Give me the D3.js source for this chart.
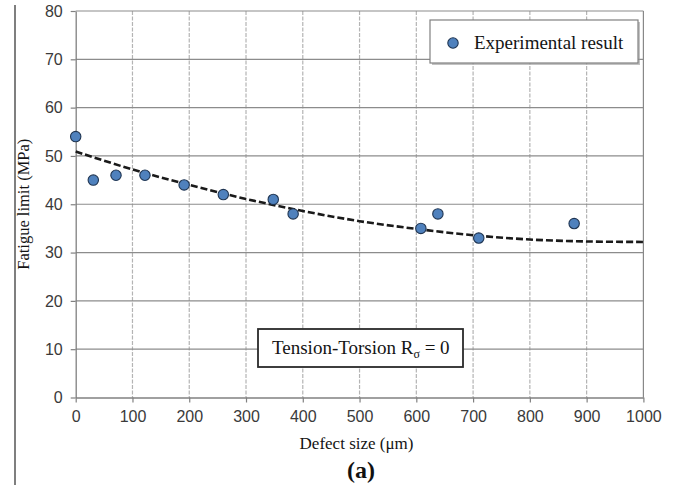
<!DOCTYPE html>
<html>
<head>
<meta charset="utf-8">
<script src="https://cdn.jsdelivr.net/npm/d3@7"></script>
<style>
  html, body { margin: 0; padding: 0; background: #fff; }
  svg { display: block; }
</style>
</head>
<body>
<svg id="chart" width="676" height="485"></svg>
<script>
// Measured fatigue limits against defect size
const defectSize = [0, 31, 71, 122, 191, 260, 348, 383, 608, 638, 710, 878];
const fatigueLimit = [54, 45, 46, 46, 44, 42, 41, 38, 35, 38, 33, 36];

// Dashed trend curve, sampled along the defect-size axis
const trendX = [0, 100, 200, 300, 400, 500, 600, 700, 800, 900, 1000];
const trendY = [50.9, 47.2, 44.0, 41.1, 38.6, 36.5, 34.9, 33.6, 32.7, 32.3, 32.2];

const xTicks = [0, 100, 200, 300, 400, 500, 600, 700, 800, 900, 1000];
const yTicks = [0, 10, 20, 30, 40, 50, 60, 70, 80];

const svg = d3.select("#chart");
const plotLeft = 75.7, plotRight = 643.4, plotTop = 11, plotBottom = 397.5;

const x = d3.scaleLinear().domain([0, 1000]).range([plotLeft, plotRight]);
const y = d3.scaleLinear().domain([0, 80]).range([plotBottom, plotTop]);

// page rule on the left
svg.append("line")
  .attr("x1", 15).attr("x2", 15).attr("y1", 5).attr("y2", 485)
  .attr("stroke", "#555").attr("stroke-width", 1.5);

// vertical grid (light, dashed)
svg.append("g").selectAll("line")
  .data(xTicks.filter(d => d > 0 && d < 1000))
  .join("line")
  .attr("x1", d => x(d)).attr("x2", d => x(d))
  .attr("y1", plotTop).attr("y2", plotBottom)
  .attr("stroke", "#b4b4b4").attr("stroke-width", 1.2)
  .attr("stroke-dasharray", "4,1.5");

// right border
svg.append("line")
  .attr("x1", x(1000)).attr("x2", x(1000)).attr("y1", plotTop).attr("y2", plotBottom)
  .attr("stroke", "#888").attr("stroke-width", 1.2);

// horizontal grid
svg.append("g").selectAll("line")
  .data(yTicks.filter(d => d > 0))
  .join("line")
  .attr("x1", plotLeft).attr("x2", plotRight)
  .attr("y1", d => y(d)).attr("y2", d => y(d))
  .attr("stroke", "#8c8c8c").attr("stroke-width", 1.2);

// axes
const xAxis = svg.append("g")
  .attr("transform", `translate(0,${plotBottom})`)
  .call(d3.axisBottom(x).tickValues(xTicks).tickFormat(d3.format("d"))
    .tickSize(5).tickSizeOuter(0).tickPadding(8));
const yAxis = svg.append("g")
  .attr("transform", `translate(${plotLeft},0)`)
  .call(d3.axisLeft(y).tickValues(yTicks).tickFormat(d3.format("d"))
    .tickSize(5).tickSizeOuter(0).tickPadding(8));

[xAxis, yAxis].forEach(g => {
  g.select(".domain").attr("stroke", "#808080").attr("stroke-width", 1.3);
  g.selectAll(".tick line").attr("stroke", "#808080").attr("stroke-width", 1.2);
  g.selectAll(".tick text")
    .attr("fill", "#3a3a3a")
    .style("font-family", "'Liberation Sans', Arial, sans-serif")
    .style("font-size", "16px");
});
xAxis.selectAll(".tick text").attr("dy", "0.72em");

// trend curve
const trendLine = d3.line()
  .x((d, i) => x(trendX[i]))
  .y(d => y(d))
  .curve(d3.curveCatmullRom);
svg.append("path")
  .attr("d", trendLine(trendY))
  .attr("fill", "none")
  .attr("stroke", "#1a1a1a")
  .attr("stroke-width", 2.6)
  .attr("stroke-dasharray", "7,3");

// measured points
svg.append("g").selectAll("circle")
  .data(defectSize)
  .join("circle")
  .attr("cx", d => x(d))
  .attr("cy", (d, i) => y(fatigueLimit[i]))
  .attr("r", 5.2)
  .attr("fill", "#4f81bd")
  .attr("stroke", "#1f3552")
  .attr("stroke-width", 1.1);

// legend
const lg = svg.append("g");
lg.append("rect").attr("x", 432).attr("y", 22).attr("width", 208).attr("height", 43)
  .attr("fill", "#9a9a9a").attr("opacity", 0.6);
lg.append("rect").attr("x", 430).attr("y", 20).attr("width", 208).attr("height", 43)
  .attr("fill", "#fff").attr("stroke", "#808080").attr("stroke-width", 1.2);
lg.append("circle").attr("cx", 453).attr("cy", 43).attr("r", 5.2)
  .attr("fill", "#4f81bd").attr("stroke", "#1f3552").attr("stroke-width", 1.1);
lg.append("text").attr("x", 474).attr("y", 49)
  .attr("fill", "#141414")
  .style("font-family", "'Liberation Serif', 'Times New Roman', serif")
  .style("font-size", "19px")
  .text("Experimental result");

// loading-condition note
const note = svg.append("g");
note.append("rect").attr("x", 258).attr("y", 329).attr("width", 205).attr("height", 38)
  .attr("fill", "#fff").attr("stroke", "#2a2a2a").attr("stroke-width", 1.8);
const nt = note.append("text").attr("x", 272).attr("y", 354)
  .attr("fill", "#141414")
  .style("font-family", "'Liberation Serif', 'Times New Roman', serif")
  .style("font-size", "19px");
nt.append("tspan").text("Tension-Torsion R");
nt.append("tspan").attr("dy", 4).style("font-size", "12px").text("σ");
nt.append("tspan").attr("dy", -4).text(" = 0");

// axis titles
svg.append("text")
  .attr("x", (plotLeft + plotRight) / 2 - 3).attr("y", 449)
  .attr("text-anchor", "middle")
  .attr("fill", "#141414")
  .style("font-family", "'Liberation Serif', 'Times New Roman', serif")
  .style("font-size", "17px")
  .text("Defect size (μm)");

svg.append("text")
  .attr("transform", `translate(29,${(plotTop + plotBottom) / 2}) rotate(-90)`)
  .attr("text-anchor", "middle")
  .attr("fill", "#141414")
  .style("font-family", "'Liberation Serif', 'Times New Roman', serif")
  .style("font-size", "16.5px")
  .text("Fatigue limit (MPa)");

svg.append("text")
  .attr("x", 361).attr("y", 478)
  .attr("text-anchor", "middle")
  .attr("fill", "#111")
  .style("font-family", "'Liberation Serif', 'Times New Roman', serif")
  .style("font-size", "24px")
  .style("font-weight", "bold")
  .text("(a)");
</script>
</body>
</html>
